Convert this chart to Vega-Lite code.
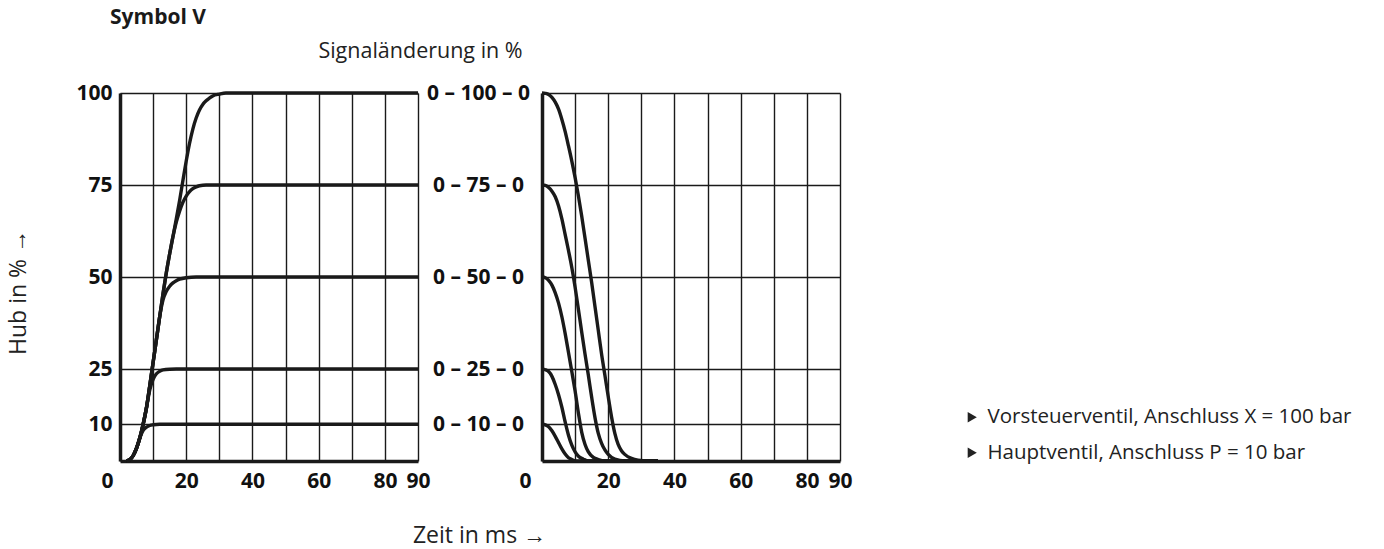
{
  "$schema": "https://vega.github.io/schema/vega-lite/v6.json",
  "autosize": {"type": "none"},
  "padding": {"left": 120, "top": 93, "right": 1264, "bottom": 456},
  "background": "white",
  "title": {"text": "Symbol V", "anchor": "start", "frame": "group", "dx": -10, "offset": 12, "font": "Open Sans", "fontSize": 21, "fontWeight": "bold", "color": "#1a1a1a"},
  "config": {
    "view": {"stroke": null},
    "font": "Open Sans",
    "axis": {
      "gridColor": "#1a1a1a", "gridWidth": 1.4, "gridOpacity": 1,
      "domainColor": "#1a1a1a", "domainWidth": 3.5, "ticks": false,
      "labelFont": "Open Sans", "labelFontWeight": "bold", "labelFontSize": 21, "labelColor": "#111111",
      "titleFont": "Open Sans", "titleFontWeight": "normal", "titleFontSize": 23, "titleColor": "#222222",
      "labelOverlap": false
    }
  },
  "datasets": {
    "curves": [
      {"panel":"open","level":100,"t":2,"value":0},{"panel":"open","level":100,"t":3,"value":0.4},{"panel":"open","level":100,"t":4,"value":1.5},{"panel":"open","level":100,"t":5,"value":3.5},{"panel":"open","level":100,"t":6,"value":6.3},{"panel":"open","level":100,"t":7,"value":10},{"panel":"open","level":100,"t":8,"value":14.5},{"panel":"open","level":100,"t":9,"value":20.5},{"panel":"open","level":100,"t":10,"value":26.8},{"panel":"open","level":100,"t":11,"value":33},{"panel":"open","level":100,"t":12,"value":39.3},{"panel":"open","level":100,"t":13,"value":45.5},{"panel":"open","level":100,"t":14,"value":51.2},{"panel":"open","level":100,"t":15,"value":56.3},{"panel":"open","level":100,"t":16,"value":61},{"panel":"open","level":100,"t":17,"value":65.8},{"panel":"open","level":100,"t":18,"value":70.8},{"panel":"open","level":100,"t":19,"value":76.2},{"panel":"open","level":100,"t":20,"value":81.5},{"panel":"open","level":100,"t":21,"value":86.3},{"panel":"open","level":100,"t":22,"value":90.2},{"panel":"open","level":100,"t":23,"value":93.2},{"panel":"open","level":100,"t":24,"value":95.4},{"panel":"open","level":100,"t":25,"value":96.9},{"panel":"open","level":100,"t":26,"value":97.9},{"panel":"open","level":100,"t":27,"value":98.6},{"panel":"open","level":100,"t":28,"value":99.2},{"panel":"open","level":100,"t":30,"value":99.7},{"panel":"open","level":100,"t":32,"value":100},{"panel":"open","level":100,"t":90,"value":100},

      {"panel":"open","level":75,"t":2,"value":0},{"panel":"open","level":75,"t":3,"value":0.4},{"panel":"open","level":75,"t":4,"value":1.5},{"panel":"open","level":75,"t":5,"value":3.5},{"panel":"open","level":75,"t":6,"value":6.3},{"panel":"open","level":75,"t":7,"value":10},{"panel":"open","level":75,"t":8,"value":14.5},{"panel":"open","level":75,"t":9,"value":20.5},{"panel":"open","level":75,"t":10,"value":26.8},{"panel":"open","level":75,"t":11,"value":33},{"panel":"open","level":75,"t":12,"value":39.3},{"panel":"open","level":75,"t":13,"value":45.5},{"panel":"open","level":75,"t":14,"value":51.2},{"panel":"open","level":75,"t":15,"value":56.3},{"panel":"open","level":75,"t":16,"value":61},{"panel":"open","level":75,"t":17,"value":64.9},{"panel":"open","level":75,"t":18,"value":67.9},{"panel":"open","level":75,"t":19,"value":70.3},{"panel":"open","level":75,"t":20,"value":72},{"panel":"open","level":75,"t":21,"value":73.2},{"panel":"open","level":75,"t":22,"value":74},{"panel":"open","level":75,"t":23,"value":74.5},{"panel":"open","level":75,"t":24,"value":74.8},{"panel":"open","level":75,"t":26,"value":75},{"panel":"open","level":75,"t":90,"value":75},

      {"panel":"open","level":50,"t":2,"value":0},{"panel":"open","level":50,"t":3,"value":0.4},{"panel":"open","level":50,"t":4,"value":1.5},{"panel":"open","level":50,"t":5,"value":3.5},{"panel":"open","level":50,"t":6,"value":6.3},{"panel":"open","level":50,"t":7,"value":10},{"panel":"open","level":50,"t":8,"value":14.5},{"panel":"open","level":50,"t":9,"value":20.5},{"panel":"open","level":50,"t":10,"value":26.8},{"panel":"open","level":50,"t":11,"value":33},{"panel":"open","level":50,"t":12,"value":39.3},{"panel":"open","level":50,"t":13,"value":43.8},{"panel":"open","level":50,"t":14,"value":46.1},{"panel":"open","level":50,"t":15,"value":47.5},{"panel":"open","level":50,"t":16,"value":48.4},{"panel":"open","level":50,"t":17,"value":49},{"panel":"open","level":50,"t":18,"value":49.4},{"panel":"open","level":50,"t":20,"value":49.8},{"panel":"open","level":50,"t":23,"value":50},{"panel":"open","level":50,"t":90,"value":50},

      {"panel":"open","level":25,"t":2,"value":0},{"panel":"open","level":25,"t":3,"value":0.4},{"panel":"open","level":25,"t":4,"value":1.5},{"panel":"open","level":25,"t":5,"value":3.5},{"panel":"open","level":25,"t":6,"value":6.3},{"panel":"open","level":25,"t":7,"value":10},{"panel":"open","level":25,"t":8,"value":14.5},{"panel":"open","level":25,"t":9,"value":19.3},{"panel":"open","level":25,"t":10,"value":22.2},{"panel":"open","level":25,"t":11,"value":23.7},{"panel":"open","level":25,"t":12,"value":24.4},{"panel":"open","level":25,"t":13,"value":24.75},{"panel":"open","level":25,"t":15,"value":24.95},{"panel":"open","level":25,"t":17,"value":25},{"panel":"open","level":25,"t":90,"value":25},

      {"panel":"open","level":10,"t":2,"value":0},{"panel":"open","level":10,"t":3,"value":0.4},{"panel":"open","level":10,"t":4,"value":1.5},{"panel":"open","level":10,"t":5,"value":3.5},{"panel":"open","level":10,"t":6,"value":6.3},{"panel":"open","level":10,"t":7,"value":8.3},{"panel":"open","level":10,"t":8,"value":9.2},{"panel":"open","level":10,"t":9,"value":9.65},{"panel":"open","level":10,"t":10,"value":9.85},{"panel":"open","level":10,"t":12,"value":10},{"panel":"open","level":10,"t":90,"value":10},

      {"panel":"close","level":100,"t":0,"value":100},{"panel":"close","level":100,"t":1,"value":99.9},{"panel":"close","level":100,"t":2,"value":99.6},{"panel":"close","level":100,"t":3,"value":98.8},{"panel":"close","level":100,"t":4,"value":97.5},{"panel":"close","level":100,"t":5,"value":95.6},{"panel":"close","level":100,"t":6,"value":92.8},{"panel":"close","level":100,"t":7,"value":89.5},{"panel":"close","level":100,"t":8,"value":85.6},{"panel":"close","level":100,"t":9,"value":81.5},{"panel":"close","level":100,"t":10,"value":77},{"panel":"close","level":100,"t":11,"value":72},{"panel":"close","level":100,"t":12,"value":66.5},{"panel":"close","level":100,"t":13,"value":60.5},{"panel":"close","level":100,"t":14,"value":54.5},{"panel":"close","level":100,"t":15,"value":48.5},{"panel":"close","level":100,"t":16,"value":42},{"panel":"close","level":100,"t":17,"value":35.5},{"panel":"close","level":100,"t":18,"value":29},{"panel":"close","level":100,"t":19,"value":23.3},{"panel":"close","level":100,"t":20,"value":17.5},{"panel":"close","level":100,"t":21,"value":12},{"panel":"close","level":100,"t":22,"value":7.5},{"panel":"close","level":100,"t":23,"value":4.5},{"panel":"close","level":100,"t":24,"value":2.8},{"panel":"close","level":100,"t":25,"value":1.8},{"panel":"close","level":100,"t":27,"value":0.7},{"panel":"close","level":100,"t":29,"value":0.2},{"panel":"close","level":100,"t":32,"value":0},{"panel":"close","level":100,"t":35,"value":0},

      {"panel":"close","level":75,"t":0,"value":75},{"panel":"close","level":75,"t":1,"value":74.9},{"panel":"close","level":75,"t":2,"value":74.3},{"panel":"close","level":75,"t":3,"value":73.3},{"panel":"close","level":75,"t":4,"value":71.8},{"panel":"close","level":75,"t":5,"value":69.3},{"panel":"close","level":75,"t":6,"value":65.8},{"panel":"close","level":75,"t":7,"value":61.5},{"panel":"close","level":75,"t":8,"value":57.2},{"panel":"close","level":75,"t":9,"value":52.6},{"panel":"close","level":75,"t":10,"value":47.2},{"panel":"close","level":75,"t":11,"value":41.2},{"panel":"close","level":75,"t":12,"value":35},{"panel":"close","level":75,"t":13,"value":29},{"panel":"close","level":75,"t":14,"value":23.3},{"panel":"close","level":75,"t":15,"value":17.3},{"panel":"close","level":75,"t":16,"value":11.8},{"panel":"close","level":75,"t":17,"value":7.5},{"panel":"close","level":75,"t":18,"value":4.8},{"panel":"close","level":75,"t":19,"value":3},{"panel":"close","level":75,"t":20,"value":1.8},{"panel":"close","level":75,"t":22,"value":0.5},{"panel":"close","level":75,"t":25,"value":0},{"panel":"close","level":75,"t":35,"value":0},

      {"panel":"close","level":50,"t":0,"value":50},{"panel":"close","level":50,"t":1,"value":49.8},{"panel":"close","level":50,"t":2,"value":49.1},{"panel":"close","level":50,"t":3,"value":47.8},{"panel":"close","level":50,"t":4,"value":45.7},{"panel":"close","level":50,"t":5,"value":42.9},{"panel":"close","level":50,"t":6,"value":39.2},{"panel":"close","level":50,"t":7,"value":34.6},{"panel":"close","level":50,"t":8,"value":29.5},{"panel":"close","level":50,"t":9,"value":24.3},{"panel":"close","level":50,"t":10,"value":19},{"panel":"close","level":50,"t":11,"value":13},{"panel":"close","level":50,"t":12,"value":7.8},{"panel":"close","level":50,"t":13,"value":4.5},{"panel":"close","level":50,"t":14,"value":2.5},{"panel":"close","level":50,"t":15.5,"value":1},{"panel":"close","level":50,"t":17,"value":0.4},{"panel":"close","level":50,"t":19,"value":0},{"panel":"close","level":50,"t":35,"value":0},

      {"panel":"close","level":25,"t":0,"value":25},{"panel":"close","level":25,"t":1,"value":24.8},{"panel":"close","level":25,"t":2,"value":24.3},{"panel":"close","level":25,"t":3,"value":23},{"panel":"close","level":25,"t":4,"value":20.8},{"panel":"close","level":25,"t":5,"value":18},{"panel":"close","level":25,"t":6,"value":14.6},{"panel":"close","level":25,"t":7,"value":10.6},{"panel":"close","level":25,"t":8,"value":7},{"panel":"close","level":25,"t":9,"value":4.3},{"panel":"close","level":25,"t":10,"value":2.5},{"panel":"close","level":25,"t":11,"value":1.3},{"panel":"close","level":25,"t":12.5,"value":0.5},{"panel":"close","level":25,"t":14,"value":0},{"panel":"close","level":25,"t":35,"value":0},

      {"panel":"close","level":10,"t":0,"value":10},{"panel":"close","level":10,"t":1,"value":9.8},{"panel":"close","level":10,"t":2,"value":9.3},{"panel":"close","level":10,"t":3,"value":8.2},{"panel":"close","level":10,"t":4,"value":6.7},{"panel":"close","level":10,"t":5,"value":5},{"panel":"close","level":10,"t":6,"value":3.3},{"panel":"close","level":10,"t":7,"value":1.9},{"panel":"close","level":10,"t":8,"value":0.9},{"panel":"close","level":10,"t":9,"value":0.4},{"panel":"close","level":10,"t":10,"value":0},{"panel":"close","level":10,"t":35,"value":0}
    ],
    "notes": [
      {"note": "Vorsteuerventil, Anschluss X = 100 bar"},
      {"note": "Hauptventil, Anschluss P = 10 bar"}
    ]
  },
  "bounds": "flush",
  "spacing": 124,
  "hconcat": [
    {
      "width": 298,
      "height": 368,
      "data": {"name": "curves"},
      "transform": [{"filter": "datum.panel == 'open'"}],
      "mark": {"type": "line", "interpolate": "monotone", "strokeWidth": 3.4, "color": "#1a1a1a", "clip": false},
      "encoding": {
        "x": {
          "field": "t", "type": "quantitative",
          "scale": {"domain": [0, 90], "nice": false},
          "axis": {
            "values": [0, 10, 20, 30, 40, 50, 60, 70, 80, 90],
            "labelExpr": "datum.value % 20 == 0 || datum.value == 90 ? datum.label : ''",
            "labelPadding": 9, "labelAngle": 0, "labelFlush": false,
            "labelOffset": {"condition": {"test": "datum.value == 0", "value": -13}, "value": 0},
            "title": "Zeit in ms →", "titleX": 359, "titleY": 81,
            "titleBaseline": "alphabetic", "titleAlign": "center", "titleAnchor": null
          }
        },
        "y": {
          "field": "value", "type": "quantitative",
          "scale": {"domain": [0, 100], "nice": false},
          "axis": {
            "values": [10, 25, 50, 75, 100],
            "labelPadding": 8,
            "title": "Hub in % →", "titleX": -95, "titleY": 199, "titleAngle": -90,
            "titleBaseline": "alphabetic", "titleAlign": "center"
          }
        },
        "detail": {"field": "level", "type": "nominal"}
      }
    },
    {
      "width": 298,
      "height": 368,
      "layer": [
        {
          "data": {"name": "curves"},
          "transform": [{"filter": "datum.panel == 'close'"}],
          "mark": {"type": "line", "interpolate": "monotone", "strokeWidth": 3.4, "color": "#1a1a1a", "clip": false},
          "encoding": {
            "x": {
              "field": "t", "type": "quantitative",
              "scale": {"domain": [0, 90], "nice": false},
              "axis": {
                "values": [0, 10, 20, 30, 40, 50, 60, 70, 80, 90],
                "labelExpr": "datum.value % 20 == 0 || datum.value == 90 ? datum.label : ''",
                "labelPadding": 9, "labelAngle": 0, "labelFlush": false,
                "labelOffset": {"condition": {"test": "datum.value == 0", "value": -17}, "value": 0},
                "title": null
              }
            },
            "y": {
              "field": "value", "type": "quantitative",
              "scale": {"domain": [0, 100], "nice": false},
              "axis": {
                "values": [10, 25, 50, 75, 100],
                "labelExpr": "'0 – ' + datum.label + ' – 0'",
                "labelAlign": "center", "labelPadding": 64,
                "title": "Signaländerung in %", "titleAngle": 0, "titleX": -122, "titleY": -36,
                "titleFontSize": 21.5,
                "titleBaseline": "alphabetic", "titleAlign": "center"
              }
            },
            "detail": {"field": "level", "type": "nominal"}
          }
        },
        {
          "data": {"name": "notes"},
          "mark": {"type": "point", "filled": true, "opacity": 0, "color": "#222222"},
          "encoding": {
            "shape": {
              "field": "note", "type": "nominal", "sort": null,
              "scale": {"range": ["triangle-right"]},
              "legend": {
                "title": null, "orient": "none", "legendX": 842, "legendY": 314,
                "symbolSize": 110, "symbolFillColor": "#222222", "symbolStrokeWidth": 0, "symbolOpacity": 1,
                "labelFont": "Open Sans", "labelFontSize": 20.5, "labelColor": "#222222",
                "labelOffset": 5, "rowPadding": 14.5, "labelLimit": 0
              }
            }
          }
        }
      ]
    }
  ]
}
